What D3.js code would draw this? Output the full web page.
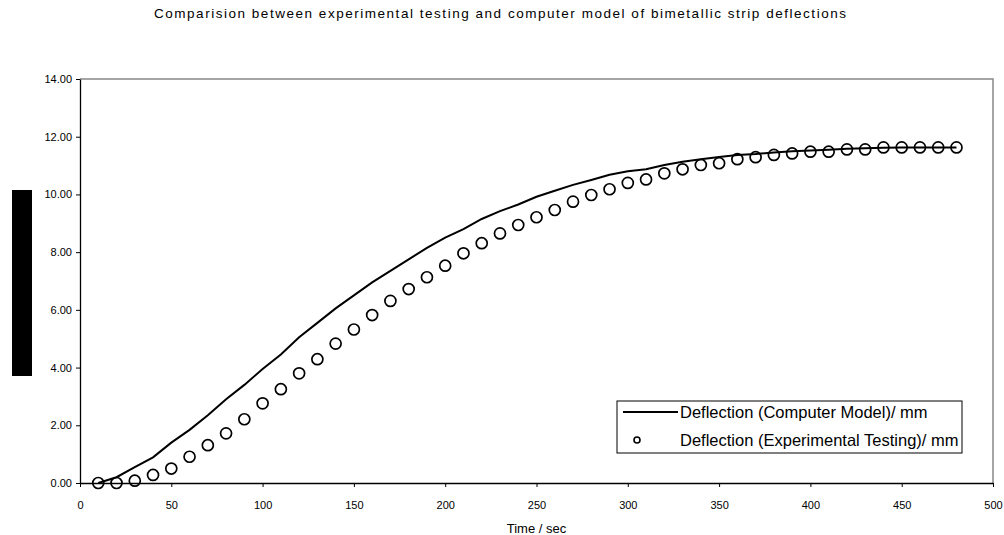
<!DOCTYPE html>
<html>
<head>
<meta charset="utf-8">
<script src="https://cdn.jsdelivr.net/npm/d3@7"></script>
<style>
  html, body { margin: 0; padding: 0; background: #fff; }
  svg { display: block; font-family: Arial, "Liberation Sans", sans-serif; }
</style>
</head>
<body>
<svg id="chart" width="1004" height="535"></svg>
<script>
const title = "Comparision between experimental testing and computer model of bimetallic strip deflections";
const xTitle = "Time / sec";
const seriesNames = ["Deflection (Computer Model)/ mm", "Deflection (Experimental Testing)/ mm"];
const times = [10,20,30,40,50,60,70,80,90,100,110,120,130,140,150,160,170,180,190,200,210,220,230,240,250,260,270,280,290,300,310,320,330,340,350,360,370,380,390,400,410,420,430,440,450,460,470,480];
const modelValues = [0.00,0.20,0.55,0.89,1.40,1.84,2.35,2.90,3.40,3.95,4.45,5.05,5.55,6.05,6.50,6.95,7.35,7.75,8.15,8.50,8.80,9.15,9.42,9.65,9.92,10.13,10.33,10.50,10.68,10.80,10.87,11.02,11.13,11.22,11.30,11.37,11.40,11.45,11.50,11.52,11.55,11.58,11.60,11.62,11.63,11.63,11.63,11.63];
const experimentValues = [0.00,0.00,0.08,0.28,0.50,0.91,1.31,1.72,2.21,2.76,3.25,3.80,4.29,4.83,5.32,5.82,6.31,6.72,7.13,7.53,7.96,8.31,8.65,8.94,9.21,9.46,9.75,9.98,10.18,10.40,10.52,10.73,10.87,11.02,11.08,11.22,11.29,11.37,11.42,11.48,11.48,11.56,11.56,11.63,11.63,11.63,11.63,11.63];
const xTicks = [0,50,100,150,200,250,300,350,400,450,500];
const yTicks = [0,2,4,6,8,10,12,14];

const svg = d3.select("#chart");
const L = 80, R = 993, T = 79, B = 483;
const x = d3.scaleLinear().domain([0, 500]).range([L, R]);
const y = d3.scaleLinear().domain([0, 14]).range([B, T]);

// title
svg.append("text").attr("x", 500).attr("y", 18).attr("text-anchor", "middle")
  .attr("font-size", 13.5).attr("fill", "#000")
  .attr("textLength", 692).attr("lengthAdjust", "spacing").text(title);

// plot border (grey top/right)
svg.append("path").attr("d", `M${L},${T}H${R}V${B}`).attr("fill", "none")
  .attr("stroke", "#888").attr("stroke-width", 1.5);

// axes
const xAxis = d3.axisBottom(x).tickValues(xTicks).tickSize(4).tickSizeOuter(0).tickFormat(d3.format("d"));
const yAxis = d3.axisLeft(y).tickValues(yTicks).tickSize(4).tickSizeOuter(0).tickFormat(d3.format(".2f"));
const gx = svg.append("g").attr("transform", `translate(0,${B})`).call(xAxis);
const gy = svg.append("g").attr("transform", `translate(${L},0)`).call(yAxis);
[gx, gy].forEach(g => {
  g.select(".domain").attr("stroke", "#000").attr("stroke-width", 1.3);
  g.selectAll(".tick line").attr("stroke", "#000");
  g.selectAll(".tick text").attr("font-size", 11).attr("fill", "#000")
    .attr("font-family", "Arial, 'Liberation Sans', sans-serif");
});
gx.selectAll(".tick text").attr("y", 26).attr("dy", 0);
gy.selectAll(".tick text").attr("x", -8);

// y axis title block (rendered as black block in reference)
svg.append("rect").attr("x", 12).attr("y", 190).attr("width", 20).attr("height", 186).attr("fill", "#000");

// x axis title
svg.append("text").attr("x", (L + R) / 2).attr("y", 533).attr("text-anchor", "middle")
  .attr("font-size", 13).attr("fill", "#000").text(xTitle);

// model line
const line = d3.line().x((d, i) => x(times[i])).y(d => y(d));
svg.append("path").datum(modelValues).attr("d", line).attr("fill", "none")
  .attr("stroke", "#000").attr("stroke-width", 2);

// experimental circles
svg.append("g").selectAll("circle").data(experimentValues).join("circle")
  .attr("cx", (d, i) => x(times[i])).attr("cy", d => y(d)).attr("r", 5.5)
  .attr("fill", "none").attr("stroke", "#000").attr("stroke-width", 1.7);

// legend
const lg = svg.append("g");
lg.append("rect").attr("x", 617).attr("y", 401).attr("width", 345).attr("height", 52)
  .attr("fill", "#fff").attr("stroke", "#000").attr("stroke-width", 1);
lg.append("line").attr("x1", 623).attr("x2", 678).attr("y1", 412).attr("y2", 412)
  .attr("stroke", "#000").attr("stroke-width", 2);
lg.append("text").attr("x", 680).attr("y", 417.5).attr("font-size", 16.5).attr("fill", "#000").text(seriesNames[0]);
lg.append("circle").attr("cx", 637).attr("cy", 440).attr("r", 3).attr("fill", "none")
  .attr("stroke", "#000").attr("stroke-width", 1.6);
lg.append("text").attr("x", 680).attr("y", 446).attr("font-size", 16.5).attr("fill", "#000").text(seriesNames[1]);
</script>
</body>
</html>
